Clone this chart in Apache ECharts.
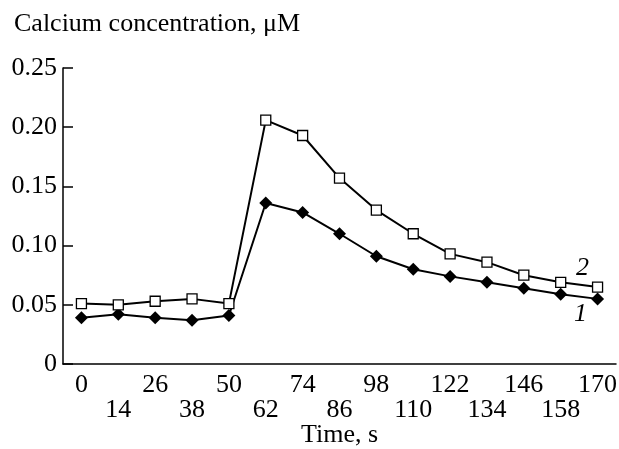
<!DOCTYPE html>
<html>
<head>
<meta charset="utf-8">
<script src="https://cdn.jsdelivr.net/npm/echarts@6/dist/echarts.min.js"></script>
<style>
  html, body { margin: 0; padding: 0; background: #fff; }
  #root { width: 619px; height: 449px; }
</style>
</head>
<body>
<div id="root"></div>
<script>
// time points, s
const times = ['0', '14', '26', '38', '50', '62', '74', '86', '98', '110', '122', '134', '146', '158', '170'];
// curve 1 (filled diamonds)
const curve1 = [0.039, 0.042, 0.039, 0.037, 0.041, 0.136, 0.128, 0.110, 0.091, 0.080, 0.074, 0.069, 0.064, 0.059, 0.055];
// curve 2 (open squares)
const curve2 = [0.051, 0.050, 0.053, 0.055, 0.051, 0.206, 0.193, 0.157, 0.130, 0.110, 0.093, 0.086, 0.075, 0.069, 0.065];
const yTicks = [0, 0.05, 0.10, 0.15, 0.20, 0.25];

const font = 'Liberation Serif';
const fs = 26;

// put the curve number next to the last point
function withTag(values, tag, offset) {
  return values.map(function (v, i) {
    if (i !== values.length - 1) return v;
    return {
      value: v,
      label: {
        show: true, formatter: tag, position: 'inside', offset: offset,
        fontFamily: font, fontStyle: 'italic', fontSize: fs, color: '#000'
      }
    };
  });
}

let root = document.getElementById('root');
let myChart = echarts.init(root);
let option = {
  animation: false,
  title: {
    text: 'Calcium concentration, μM',
    left: 9, top: 6,
    textStyle: { fontFamily: font, fontSize: fs, fontWeight: 'normal', color: '#000' }
  },
  grid: { left: 63, right: 3, top: 68, bottom: 85, outerBoundsMode: 'none', containLabel: false },
  xAxis: {
    type: 'category',
    data: times,
    boundaryGap: true,
    name: 'Time, s',
    nameLocation: 'middle',
    nameGap: 58,
    nameMoveOverlap: false,
    nameTextStyle: { fontFamily: font, fontSize: fs, color: '#000' },
    axisLine: { lineStyle: { color: '#000', width: 1.5 } },
    axisTick: { inside: true, length: 9, lineStyle: { color: '#000', width: 1.5 } },
    axisLabel: {
      interval: 0, margin: 9, lineHeight: 25,
      fontFamily: font, fontSize: fs, color: '#000',
      formatter: function (v, i) { return i % 2 ? '\n' + v : v; }
    },
    splitLine: { show: false }
  },
  yAxis: {
    type: 'value',
    min: yTicks[0], max: yTicks[yTicks.length - 1], interval: 0.05,
    axisLine: { show: true, lineStyle: { color: '#000', width: 1.5 } },
    axisTick: { show: true, inside: true, length: 10, lineStyle: { color: '#000', width: 1.5 } },
    axisLabel: {
      margin: 6, fontFamily: font, fontSize: fs, color: '#000',
      formatter: function (v) { return v === 0 ? '0' : v.toFixed(2); }
    },
    splitLine: { show: false }
  },
  series: [
    {
      type: 'line',
      data: withTag(curve1, '1', [-17, 15]),
      symbol: 'diamond',
      symbolSize: 13,
      lineStyle: { color: '#000', width: 2 },
      itemStyle: { color: '#000', borderColor: '#000', borderWidth: 0 },
      z: 3
    },
    {
      type: 'line',
      data: withTag(curve2, '2', [-15, -19]),
      symbol: 'rect',
      symbolSize: 10,
      lineStyle: { color: '#000', width: 2 },
      itemStyle: { color: '#fff', borderColor: '#000', borderWidth: 1.3 },
      z: 4
    }
  ]
};
myChart.setOption(option);
</script>
</body>
</html>
